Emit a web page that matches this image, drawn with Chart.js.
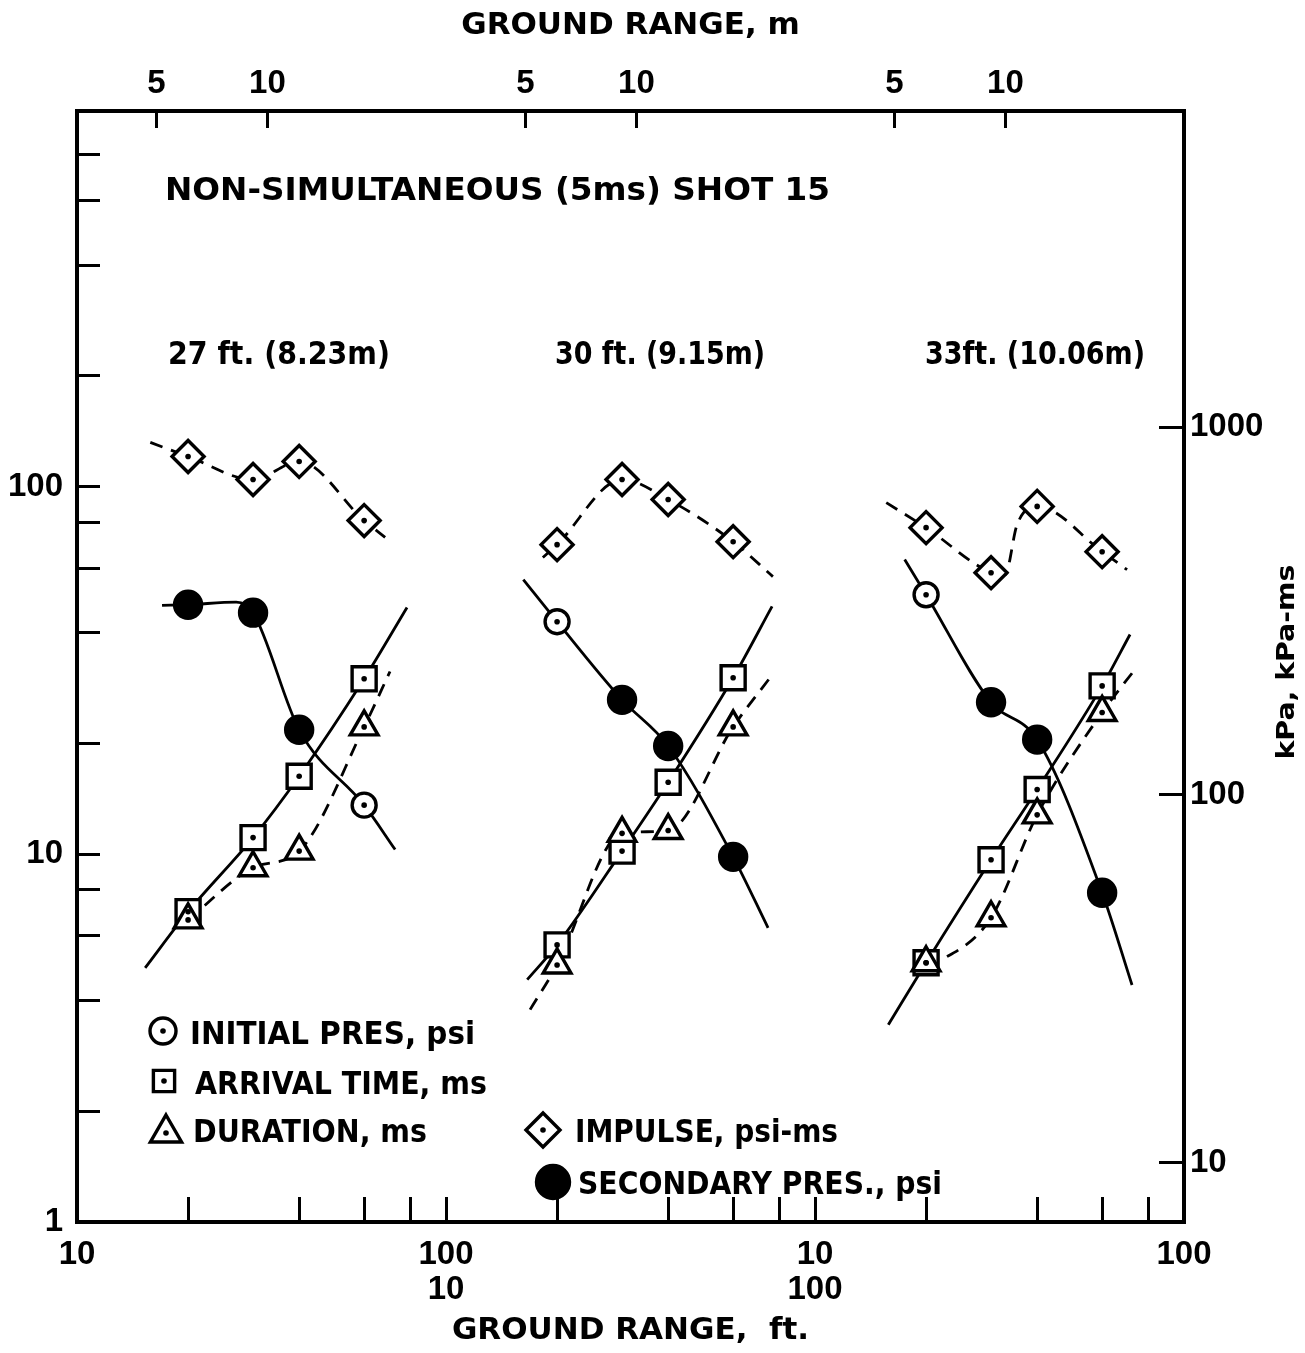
<!DOCTYPE html>
<html>
<head>
<meta charset="utf-8">
<script src="https://cdn.jsdelivr.net/npm/chart.js@4.4.1/dist/chart.umd.min.js"></script>
<style>
  html, body { margin: 0; padding: 0; background: #fff; }
  #wrap { width: 1305px; height: 1353px; position: relative; }
</style>
</head>
<body>
<div id="wrap"><canvas id="c"></canvas></div>
<script>
// ---------------- DATA ----------------
// gauge ground ranges, ft
const rangeFt = [20, 30, 40, 60];

// Panel 1 : 27 ft (8.23 m)
const p1Impulse   = [120.7, 104.5, 117.0, 80.8];
const p1Initial   = [null, null, null, 13.6];
const p1Secondary = [47.7, 45.4, 21.8, null];
const p1Arrival   = [6.98, 11.1, 16.3, 30.0];
const p1Duration  = [6.63, 9.19, 10.2, 22.2];
// hand-faired curves [ft, value]
const p1ImpulseFit  = [[15.8, 131.8], [20, 120.7], [30, 104.5], [40, 117.0], [60, 80.8], [68.4, 72.7]];
const p1PressureFit = [[17, 47.5], [20, 47.7], [27, 48.5], [30, 45.4], [40, 21.8], [60, 13.6], [72.8, 10.3]];
const p1ArrivalFit  = [[15.3, 4.91], [20, 6.98], [30, 11.1], [40, 16.3], [60, 30.0], [78.4, 46.9]];
const p1DurationFit = [[20, 6.63], [30, 9.19], [40, 10.2], [60, 22.2], [70.5, 31.4]];

// Panel 2 : 30 ft (9.15 m)
const p2Impulse   = [69.5, 104.5, 92.2, 70.8];
const p2Initial   = [42.9, null, null, null];
const p2Secondary = [null, 26.3, 19.7, 9.84];
const p2Arrival   = [5.67, 10.2, 15.7, 30.2];
const p2Duration  = [5.0, 11.4, 11.6, 22.2];
const p2ImpulseFit  = [[18.3, 64.1], [20, 69.5], [30, 104.5], [40, 92.2], [60, 70.8], [76.9, 56.9]];
const p2PressureFit = [[16.2, 55.8], [20, 42.9], [30, 26.3], [40, 19.7], [60, 9.84], [74.6, 6.31]];
const p2ArrivalFit  = [[16.6, 4.56], [20, 5.67], [30, 10.2], [40, 15.7], [60, 30.2], [76.5, 47.2]];
const p2DurationFit = [[16.9, 3.78], [20, 5.0], [30, 11.4], [40, 11.6], [60, 22.2], [75.5, 30.2]];

// Panel 3 : 33 ft (10.06 m)
const p3Impulse   = [77.3, 58.3, 88.3, 66.5];
const p3Initial   = [50.8, null, null, null];
const p3Secondary = [null, 25.9, 20.5, 7.86];
const p3Arrival   = [5.07, 9.66, 15.0, 28.7];
const p3Duration  = [5.07, 6.72, 12.8, 24.3];
const p3ImpulseFit  = [[15.6, 90.4], [20, 77.3], [30, 58.3], [32.7, 57.5], [35.3, 78.8], [40, 88.3], [60, 66.5], [70.1, 59.4]];
const p3PressureFit = [[17.5, 63.3], [20, 50.8], [30, 25.9], [40, 20.5], [60, 7.86], [72.3, 4.41]];
const p3ArrivalFit  = [[15.8, 3.44], [20, 5.07], [30, 9.66], [40, 15.0], [60, 28.7], [71.4, 39.6]];
const p3DurationFit = [[20, 5.07], [22.5, 5.23], [30, 6.72], [40, 12.8], [60, 24.3], [73.6, 31.8]];

// Tick values / labels
const psiTicks = [1, 2, 4, 6, 8, 10, 20, 40, 60, 80, 100, 200, 400, 600, 800];
const psiLabelled = [1, 10, 100];
const kPaTicks = [10, 100, 1000];
const ftTicks = [10, 20, 40, 60, 80, 100, 200, 400, 600, 800, 1000, 2000, 4000, 6000, 8000, 10000];
const ftMajor = [10, 100, 1000, 10000];
const ftMajorLabels = [['10'], ['100', '10'], ['10', '100'], ['100']];
const mTicks = [5, 10, 50, 100, 500, 1000];
const mTickLabels = ['5', '10', '5', '10', '5', '10'];

const titleText = 'NON-SIMULTANEOUS (5ms) SHOT 15';
const panelTitles = ['27 ft. (8.23m)', '30 ft. (9.15m)', '33ft. (10.06m)'];
const legendTexts = ['INITIAL PRES, psi', 'ARRIVAL TIME, ms', 'DURATION, ms', 'IMPULSE, psi-ms', 'SECONDARY PRES., psi'];

const PSI_TO_KPA = 6.895;
const FT_TO_M = 0.3048;

// ---------------- STYLES ----------------
const FONT = "'DejaVu Sans', sans-serif";
const TICK_FONT = "'Liberation Sans', Arial, sans-serif";
const W = 1305, H = 1353;
const AREA = { left: 77, right: 1184, top: 111, bottom: 1222 };
const Y_MAX = 1050;

const markerStyles = {
  initial:   { pointStyle: 'circle',   pointRadius: 12, pointBackgroundColor: '#fff', dot: true },
  arrival:   { pointStyle: 'rect',     pointRadius: 17, pointBackgroundColor: '#fff', dot: true },
  duration:  { pointStyle: 'triangle', pointRadius: 16, pointBackgroundColor: '#fff', dot: true },
  impulse:   { pointStyle: 'rectRot',  pointRadius: 16, pointBackgroundColor: '#fff', dot: true },
  secondary: { pointStyle: 'circle',   pointRadius: 13.5, pointBackgroundColor: '#000', dot: false }
};

function toPts(ys) {
  return rangeFt.map((x, i) => ({ x: x, y: ys[i] })).filter(p => p.y !== null);
}
function fitPts(arr) { return arr.map(p => ({ x: p[0], y: p[1] })); }

function markerDs(ys, kind, axis) {
  const s = markerStyles[kind];
  return {
    data: toPts(ys), xAxisID: axis, yAxisID: 'y', showLine: false, order: 0,
    pointStyle: s.pointStyle, pointRadius: s.pointRadius, pointHoverRadius: s.pointRadius,
    pointBackgroundColor: s.pointBackgroundColor, pointBorderColor: '#000', pointBorderWidth: 3.4,
    centerDot: s.dot
  };
}
function curveDs(arr, dashed, axis) {
  return {
    data: fitPts(arr), xAxisID: axis, yAxisID: 'y', showLine: true, order: 1,
    borderColor: '#000', borderWidth: 2.8, borderDash: dashed ? [13, 9] : [],
    pointRadius: 0, pointHoverRadius: 0, fill: false,
    cubicInterpolationMode: 'monotone'
  };
}

const panels = [
  { axis: 'x',  imp: p1Impulse, ini: p1Initial, sec: p1Secondary, arr: p1Arrival, dur: p1Duration,
    impFit: p1ImpulseFit, presFit: p1PressureFit, arrFit: p1ArrivalFit, durFit: p1DurationFit },
  { axis: 'x2', imp: p2Impulse, ini: p2Initial, sec: p2Secondary, arr: p2Arrival, dur: p2Duration,
    impFit: p2ImpulseFit, presFit: p2PressureFit, arrFit: p2ArrivalFit, durFit: p2DurationFit },
  { axis: 'x3', imp: p3Impulse, ini: p3Initial, sec: p3Secondary, arr: p3Arrival, dur: p3Duration,
    impFit: p3ImpulseFit, presFit: p3PressureFit, arrFit: p3ArrivalFit, durFit: p3DurationFit }
];

const datasets = [];
panels.forEach(p => {
  datasets.push(curveDs(p.impFit, true, p.axis));
  datasets.push(curveDs(p.presFit, false, p.axis));
  datasets.push(curveDs(p.arrFit, false, p.axis));
  datasets.push(curveDs(p.durFit, true, p.axis));
});
panels.forEach(p => {
  datasets.push(markerDs(p.imp, 'impulse', p.axis));
  datasets.push(markerDs(p.sec, 'secondary', p.axis));
  datasets.push(markerDs(p.ini, 'initial', p.axis));
  datasets.push(markerDs(p.dur, 'duration', p.axis));
  datasets.push(markerDs(p.arr, 'arrival', p.axis));
});

// ---------------- PLUGINS ----------------
const dotPlugin = {
  id: 'centerDots',
  afterDatasetsDraw(chart) {
    const ctx = chart.ctx;
    chart.data.datasets.forEach((ds, i) => {
      if (!ds.centerDot) return;
      chart.getDatasetMeta(i).data.forEach(el => {
        ctx.save();
        ctx.beginPath();
        ctx.arc(el.x, el.y, 2.8, 0, Math.PI * 2);
        ctx.fillStyle = '#000';
        ctx.fill();
        ctx.restore();
      });
    });
  }
};

function fitText(ctx, text, x, baseline, width, size) {
  ctx.save();
  ctx.font = `bold ${size}px ${FONT}`;
  ctx.fillStyle = '#000';
  ctx.textAlign = 'left';
  ctx.textBaseline = 'alphabetic';
  const w = ctx.measureText(text).width;
  ctx.translate(x, baseline);
  ctx.scale(width / w, 1);
  ctx.fillText(text, 0, 0);
  ctx.restore();
}

function legendMarker(ctx, kind, x, y, r) {
  const s = markerStyles[kind];
  ctx.save();
  ctx.strokeStyle = '#000';
  ctx.fillStyle = s.pointBackgroundColor;
  ctx.lineWidth = 3.4;
  Chart.helpers.drawPoint(ctx, { pointStyle: s.pointStyle, radius: r, borderWidth: 3.4, rotation: 0 }, x, y);
  if (s.dot) {
    ctx.beginPath();
    ctx.arc(x, y, 2.8, 0, Math.PI * 2);
    ctx.fillStyle = '#000';
    ctx.fill();
  }
  ctx.restore();
}

const annotationPlugin = {
  id: 'annotations',
  afterDraw(chart) {
    const ctx = chart.ctx;
    const a = chart.chartArea;
    // main title inside frame
    fitText(ctx, titleText, a.left + 88, a.top + 89, 665, 32);
    // panel titles
    const ptX = [168, 555, 925], ptW = [222, 210, 220];
    panelTitles.forEach((t, i) => fitText(ctx, t, ptX[i], a.top + 253, ptW[i], 32));
    // legend
    const leg = [
      { kind: 'initial',   mx: 163, my: 1031, r: 13, tx: 190, tw: 285, base: 1044 },
      { kind: 'arrival',   mx: 164, my: 1081, r: 15, tx: 195, tw: 292, base: 1094 },
      { kind: 'duration',  mx: 166, my: 1133, r: 18, tx: 193, tw: 234, base: 1142 },
      { kind: 'impulse',   mx: 543, my: 1130, r: 17, tx: 575, tw: 263, base: 1142 },
      { kind: 'secondary', mx: 553, my: 1182, r: 16.5, tx: 578, tw: 364, base: 1194 }
    ];
    leg.forEach((l, i) => {
      legendMarker(ctx, l.kind, l.mx, l.my, l.r);
      fitText(ctx, legendTexts[i], l.tx, l.base, l.tw, 32);
    });
    // right axis title, reading bottom-to-top
    ctx.save();
    ctx.font = `bold 25px ${FONT}`;
    ctx.fillStyle = '#000';
    ctx.translate(1294, 662);
    ctx.rotate(-Math.PI / 2);
    const t = 'kPa, kPa-ms';
    const w = ctx.measureText(t).width;
    ctx.scale(195 / w, 1);
    ctx.textAlign = 'center';
    ctx.textBaseline = 'alphabetic';
    ctx.fillText(t, 0, 0);
    ctx.restore();
  }
};

// ---------------- CHART ----------------
const black = '#000';
const tickFont = { family: TICK_FONT, size: 33, weight: 'bold' };
const axisTitleFont = { family: FONT, size: 31, weight: 'bold' };

const canvas = document.getElementById('c');
canvas.width = W; canvas.height = H;

new Chart(canvas, {
  type: 'line',
  data: { datasets: datasets },
  plugins: [dotPlugin, annotationPlugin],
  options: {
    responsive: false,
    animation: false,
    events: [],
    layout: { padding: 0, autoPadding: false },
    plugins: { legend: { display: false }, tooltip: { enabled: false } },
    scales: {
      x: {
        type: 'logarithmic', position: 'bottom', min: 10, max: 10000,
        afterBuildTicks: s => { s.ticks = ftTicks.map(v => ({ value: v })); },
        afterFit: s => { s.height = H - AREA.bottom; },
        ticks: {
          autoSkip: false, maxRotation: 0, minRotation: 0, color: black, padding: 40,
          font: { family: TICK_FONT, size: 33, weight: 'bold', lineHeight: 1.06 },
          callback: v => { const k = ftMajor.indexOf(v); return k >= 0 ? ftMajorLabels[k] : ''; }
        },
        grid: { drawOnChartArea: false, drawTicks: true, tickLength: -25, color: black, lineWidth: 3 },
        border: { display: true, color: black, width: 4 },
        title: { display: true, text: 'GROUND RANGE,  ft.', color: black, font: axisTitleFont, padding: { top: 0, bottom: 3 } }
      },
      x2: { type: 'logarithmic', display: false, min: 1, max: 1000 },
      x3: { type: 'logarithmic', display: false, min: 0.1, max: 100 },
      xTop: {
        type: 'logarithmic', position: 'top', min: 10 * FT_TO_M, max: 10000 * FT_TO_M,
        afterBuildTicks: s => { s.ticks = mTicks.map(v => ({ value: v })); },
        afterFit: s => { s.height = AREA.top; },
        ticks: {
          autoSkip: false, maxRotation: 0, minRotation: 0, color: black, padding: 24,
          font: tickFont,
          callback: v => { const k = mTicks.indexOf(v); return k >= 0 ? mTickLabels[k] : ''; }
        },
        grid: { drawOnChartArea: false, drawTicks: true, tickLength: -17, color: black, lineWidth: 3 },
        border: { display: true, color: black, width: 4 },
        title: { display: true, text: 'GROUND RANGE, m', color: black, font: axisTitleFont, padding: { top: 7, bottom: 0 } }
      },
      y: {
        type: 'logarithmic', position: 'left', min: 1, max: Y_MAX,
        afterBuildTicks: s => { s.ticks = psiTicks.map(v => ({ value: v })); },
        afterFit: s => { s.width = AREA.left; },
        ticks: {
          autoSkip: false, color: black, padding: 37, font: tickFont,
          callback: v => psiLabelled.indexOf(v) >= 0 ? String(v) : ''
        },
        grid: { drawOnChartArea: false, drawTicks: true, tickLength: -23, color: black, lineWidth: 3 },
        border: { display: true, color: black, width: 4 }
      },
      y2: {
        type: 'logarithmic', position: 'right', min: 1 * PSI_TO_KPA, max: Y_MAX * PSI_TO_KPA,
        afterBuildTicks: s => { s.ticks = kPaTicks.map(v => ({ value: v })); },
        afterFit: s => { s.width = W - AREA.right; },
        ticks: {
          autoSkip: false, color: black, padding: 31, font: tickFont,
          callback: v => String(v)
        },
        grid: { drawOnChartArea: false, drawTicks: true, tickLength: -25, color: black, lineWidth: 3 },
        border: { display: true, color: black, width: 4 }
      }
    }
  }
});
</script>
</body>
</html>
